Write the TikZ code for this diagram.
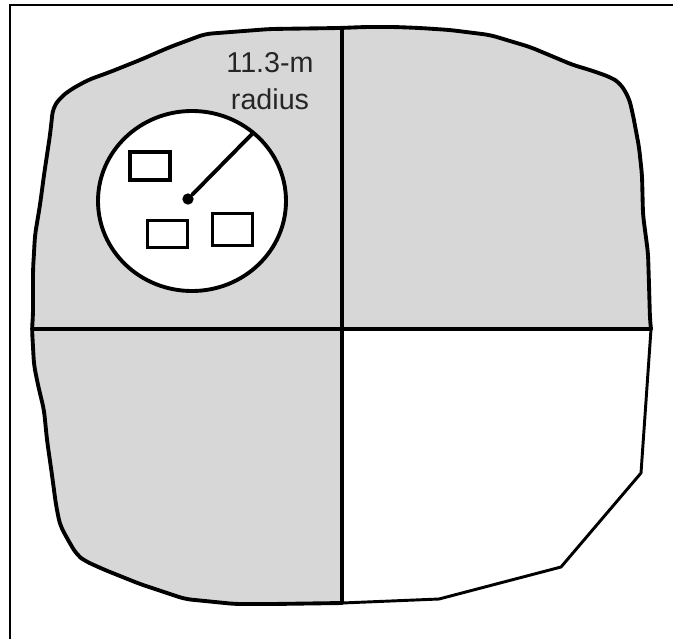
\documentclass[tikz,border=0pt]{standalone}
\usepackage{fontspec}
\setmainfont{Liberation Sans}
\usetikzlibrary{shapes.geometric}
\definecolor{plotgray}{HTML}{D7D7D7}
\newcommand{\plotedge}{(651, 329) -- (650, 320) -- (649, 285) -- (648, 253) -- (643, 215) -- (642, 175)
    -- (639, 147) -- (633, 115) -- (629, 98) -- (620, 83) -- (610, 77) -- (590, 70) -- (573, 65)
    -- (530, 47) -- (490, 35) -- (450, 30) -- (420, 28) -- (395, 27) -- (365, 27) -- (340, 28)
    -- (270, 29) -- (205, 34) -- (170, 47) -- (140, 60) -- (110, 72) -- (88, 80) -- (70, 90)
    -- (60, 98) -- (53, 108) -- (50, 135) -- (44, 175) -- (40, 205) -- (35, 235) -- (33, 270)
    -- (33, 315) -- (32, 329) -- (34, 365) -- (38, 385) -- (44, 410) -- (47, 440) -- (52, 475)
    -- (56, 505) -- (60, 525) -- (68, 540) -- (77, 555) -- (85, 561) -- (105, 570) -- (140, 584)
    -- (185, 599) -- (235, 604) -- (273, 604) -- (342, 603)}
\tikzset{
    plotline/.style={line width=2.9pt, line join=round, line cap=round},
    thinline/.style={line width=2.2pt, line join=round, line cap=round},
    subplot/.style={draw, line width=2.5pt, fill=white, minimum width=30pt, inner sep=0pt},
}
\begin{document}
\begin{tikzpicture}[x=0.75pt, y=-0.75pt]
    \useasboundingbox (0, 0) rectangle (673, 639);

    % Shaded quadrants
    \fill[plotgray, rounded corners=5pt] \plotedge [sharp corners] -- (342, 329) -- cycle;

    % Plot boundary
    \draw[plotline, rounded corners=5pt] \plotedge;
    \draw[thinline] (342, 603) -- (439, 599) -- (561, 567) -- (641, 473) -- (651, 329);

    % Quadrant lines
    \coordinate (north) at (342, 28);
    \coordinate (south) at (342, 603);
    \coordinate (west) at (32, 329);
    \coordinate (east) at (651, 329);
    \draw[plotline] (north) -- (south);
    \draw[plotline] (west) -- (east);

    % Circular plot
    \node[ellipse, draw, line width=2.9pt, fill=white, minimum width=141pt, minimum height=135pt,
        inner sep=0pt] (circleplot) at (192, 201) {};
    \node[subplot, minimum height=21pt] (boxa) at (150, 166) {};
    \node[subplot, minimum height=20pt] (boxb) at (167.5, 234) {};
    \node[subplot, minimum height=24pt] (boxc) at (232.5, 229.5) {};

    % Radius
    \node[circle, fill=black, minimum size=8.5pt, inner sep=0pt] (centre) at (188, 199) {};
    \coordinate (rim) at (253, 133);
    \draw[plotline] (centre) -- (rim);
    \node[font=\fontsize{21.5}{27.75}\selectfont, align=center, text=black!85] (radiuslabel) at (270, 81)
        {11.3-m\\radius};

    % Frame
    \draw[line width=1.7pt] (10, 639) -- (10, 5) -- (673, 5);
\end{tikzpicture}
\end{document}
